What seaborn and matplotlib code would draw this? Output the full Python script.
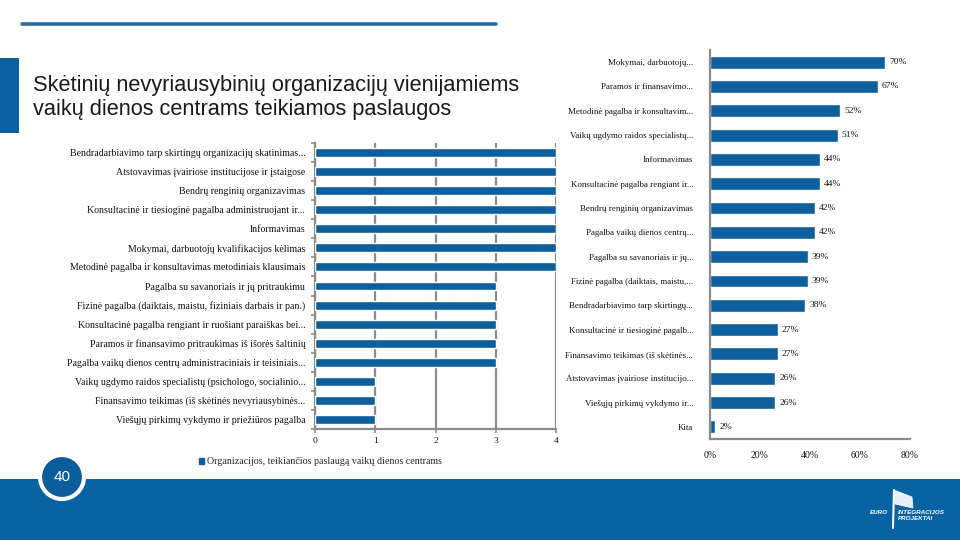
import numpy as np
import matplotlib
matplotlib.use("Agg")
import matplotlib.pyplot as plt
import seaborn as sns
from matplotlib.patches import Patch, Rectangle, Ellipse, Polygon
from matplotlib.lines import Line2D

# ---------------- data ----------------
title_lines = ["Skėtinių nevyriausybinių organizacijų vienijamiems",
               "vaikų dienos centrams teikiamos paslaugos"]

left_categories = [
    "Bendradarbiavimo tarp skirtingų organizacijų skatinimas...",
    "Atstovavimas įvairiose institucijose ir įstaigose",
    "Bendrų renginių organizavimas",
    "Konsultacinė ir tiesioginė pagalba administruojant ir...",
    "Informavimas",
    "Mokymai, darbuotojų kvalifikacijos kėlimas",
    "Metodinė pagalba ir konsultavimas metodiniais klausimais",
    "Pagalba su savanoriais ir jų pritraukimu",
    "Fizinė pagalba (daiktais, maistu, fiziniais darbais ir pan.)",
    "Konsultacinė pagalba rengiant ir ruošiant paraiškas bei...",
    "Paramos ir finansavimo pritraukimas iš išorės šaltinių",
    "Pagalba vaikų dienos centrų administraciniais ir teisiniais...",
    "Vaikų ugdymo raidos specialistų (psichologo, socialinio...",
    "Finansavimo teikimas (iš skėtinės nevyriausybinės...",
    "Viešųjų pirkimų vykdymo ir priežiūros pagalba",
]
left_values = [4, 4, 4, 4, 4, 4, 4, 3, 3, 3, 3, 3, 1, 1, 1]
left_xticks = [0, 1, 2, 3, 4]
legend_label = "Organizacijos, teikiančios paslaugą vaikų dienos centrams"

right_categories = [
    "Mokymai, darbuotojų...",
    "Paramos ir finansavimo...",
    "Metodinė pagalba ir konsultavim...",
    "Vaikų ugdymo raidos specialistų...",
    "Informavimas",
    "Konsultacinė pagalba rengiant ir...",
    "Bendrų renginių organizavimas",
    "Pagalba vaikų dienos centrų...",
    "Pagalba su savanoriais ir jų...",
    "Fizinė pagalba (daiktais, maistu,...",
    "Bendradarbiavimo tarp skirtingų...",
    "Konsultacinė ir tiesioginė pagalb...",
    "Finansavimo teikimas (iš skėtinės...",
    "Atstovavimas įvairiose institucijo...",
    "Viešųjų pirkimų vykdymo ir...",
    "Kita",
]
right_values = [70, 67, 52, 51, 44, 44, 42, 42, 39, 39, 38, 27, 27, 26, 26, 2]
right_xticks = [0, 20, 40, 60, 80]
page_number = "40"

# ---------------- style ----------------
sns.set_theme(style="white")
plt.rcParams["font.family"] = ["Liberation Serif", "DejaVu Serif"]

BLUE = "#0e5f9e"
GRAY = "#8c8c8c"
W, H = 960, 540

fig = plt.figure(figsize=(9.6, 5.4), dpi=100)
fig.patch.set_facecolor("white")

def fx(px):
    return px / W

def fy(py):
    return 1 - py / H

# decorations
fig.add_artist(Line2D([fx(22), fx(496)], [fy(24), fy(24)], color="#2a6a9e", lw=2.6))
fig.add_artist(Rectangle((0, fy(133)), fx(19), 75 / H, transform=fig.transFigure,
                         color="#0b60a2", lw=0))
for i, line in enumerate(title_lines):
    fig.text(fx(33), fy(91 + 24 * i), line, fontsize=15.7, color="#1a1a1a",
             family=["Liberation Sans", "DejaVu Sans"], va="baseline", ha="left")

# ---------------- left chart ----------------
ax1 = fig.add_axes([fx(315), fy(429), fx(556) - fx(315), 286 / H])
sns.barplot(x=left_values, y=left_categories, orient="h", color=BLUE, saturation=1,
            width=0.47, ax=ax1, zorder=3)
ax1.set_xlim(0, 4)
ax1.set_xticks(left_xticks)
ax1.set_xticklabels([str(v) for v in left_xticks])
ax1.xaxis.grid(True, color=GRAY, lw=1.6, zorder=0)
ax1.set_axisbelow(True)
for s in ["top", "right"]:
    ax1.spines[s].set_visible(False)
for s in ["left", "bottom"]:
    ax1.spines[s].set_color(GRAY)
    ax1.spines[s].set_linewidth(1.6)
ax1.set_yticks(np.arange(-0.5, len(left_categories), 1), minor=True)
ax1.tick_params(axis="y", which="major", length=0, pad=7, labelsize=7.1, labelcolor="#111111")
ax1.tick_params(axis="y", which="minor", length=3, width=1.2, color=GRAY, left=True,
                direction="out")
ax1.tick_params(axis="x", which="major", length=3, width=1.2, color=GRAY, bottom=True,
                labelsize=6.8, pad=3, labelcolor="#111111")
ax1.set_xlabel("")
ax1.set_ylabel("")
ax1.legend(handles=[Patch(color=BLUE, label=legend_label)], loc="center left",
           bbox_to_anchor=(fx(199), fy(462)), bbox_transform=fig.transFigure,
           frameon=False, fontsize=7.2, handlelength=0.5, handleheight=0.5,
           handletextpad=0.3, borderpad=0, borderaxespad=0)

# ---------------- right chart ----------------
ax2 = fig.add_axes([fx(710), fy(439), fx(910) - fx(710), 389 / H])
sns.barplot(x=right_values, y=right_categories, orient="h", color=BLUE, saturation=1,
            width=0.53, ax=ax2)
ax2.set_xlim(0, 80)
ax2.set_xticks(right_xticks)
ax2.set_xticklabels([f"{v}%" for v in right_xticks])
for s in ["top", "right"]:
    ax2.spines[s].set_visible(False)
for s in ["left", "bottom"]:
    ax2.spines[s].set_color(GRAY)
    ax2.spines[s].set_linewidth(1.6)
ax2.tick_params(axis="y", length=0, pad=12, labelsize=6.4, labelcolor="#111111")
ax2.tick_params(axis="x", length=0, pad=9, labelsize=7.0, labelcolor="#111111")
ax2.set_xlabel("")
ax2.set_ylabel("")
ax2.bar_label(ax2.containers[0], labels=[f"{v}%" for v in right_values], padding=3,
              fontsize=6.8, color="#111111")

# ---------------- footer ----------------
fig.add_artist(Rectangle((0, 0), 1, (H - 479) / H,
                         transform=fig.transFigure, color="#0662a3", lw=0, zorder=1))
fig.add_artist(Ellipse((fx(62), fy(477)), 2 * 22 / W, 2 * 22 / H, transform=fig.transFigure,
                       facecolor="#0b5e9e", edgecolor="white", lw=3, zorder=2))
fig.text(fx(62), fy(477), page_number, color="white", fontsize=11,
         family=["Liberation Sans", "DejaVu Sans"], ha="center", va="center", zorder=3)
# logo
fig.add_artist(Line2D([fx(894), fx(893)], [fy(490), fy(528)], color="white", lw=1.5, zorder=3))
fig.add_artist(Polygon([[fx(894), fy(490)], [fx(912), fy(497)], [fx(913), fy(508)],
                        [fx(895), fy(504)]], closed=True, transform=fig.transFigure,
                       facecolor="#e8eef5", edgecolor="white", lw=0.5, zorder=3))
fig.text(fx(888), fy(512), "EURO", color="white", fontsize=4.5, fontweight="bold",
         fontstyle="italic", family=["Liberation Sans"], ha="right", va="center", zorder=3)
fig.text(fx(898), fy(512), "INTEGRACIJOS", color="white", fontsize=4.5, fontweight="bold",
         fontstyle="italic", family=["Liberation Sans"], ha="left", va="center", zorder=3)
fig.text(fx(898), fy(519), "PROJEKTAI", color="white", fontsize=4.5, fontweight="bold",
         fontstyle="italic", family=["Liberation Sans"], ha="left", va="center", zorder=3)

fig.savefig("out.png", dpi=100)
